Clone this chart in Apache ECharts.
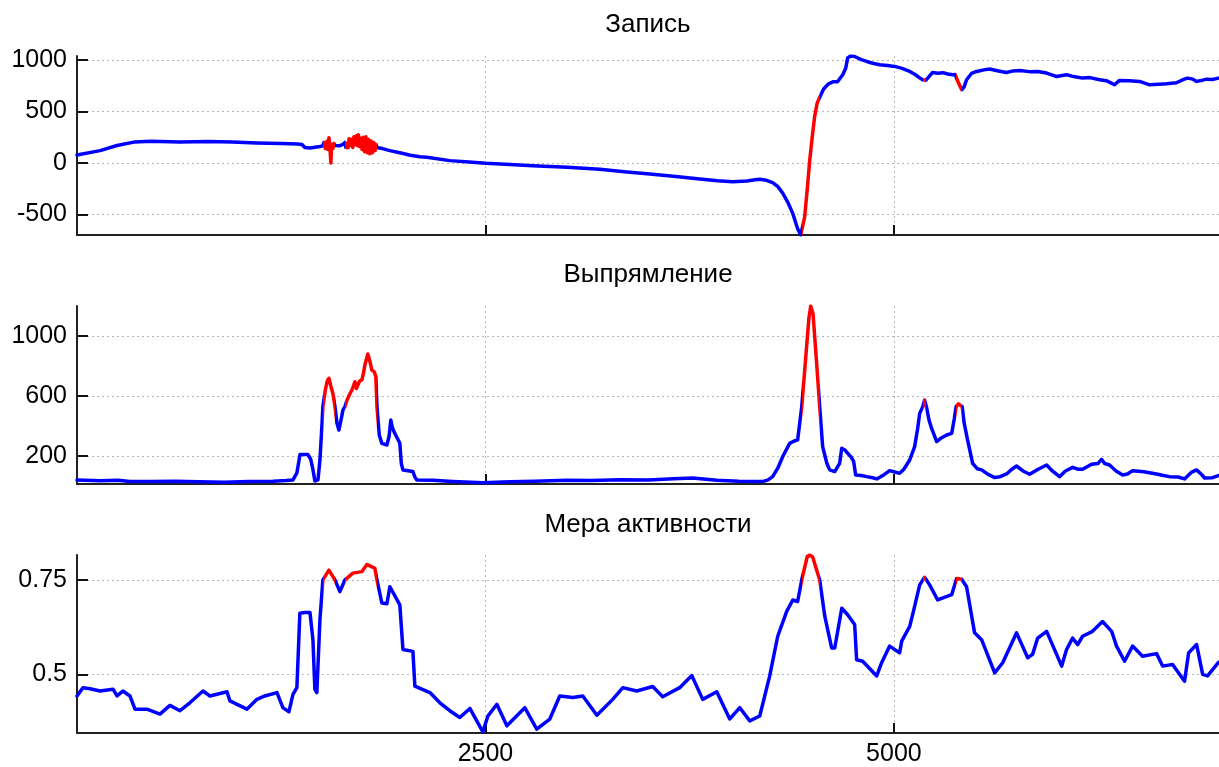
<!DOCTYPE html>
<html>
<head>
<meta charset="utf-8">
<script src="https://cdn.jsdelivr.net/npm/echarts@6/dist/echarts.min.js"></script>
<style>
html,body{margin:0;padding:0;background:#fff;}
#chart{width:1219px;height:767px;}
</style>
</head>
<body>
<div id="chart"></div>
<script>
// ---- data ----
const titles = ['Запись', 'Выпрямление', 'Мера активности'];
const xTicks = [2500, 5000];
const yTicks1 = [-500, 0, 500, 1000];
const yTicks2 = [200, 600, 1000];
const yTicks3 = [0.5, 0.75];
const threshold = 0.75;

const record = [
 [0,78],[141,120],[245,170],[355,205],[450,212],[630,205],[800,210],[950,205],[1100,195],[1250,190],[1350,185],[1377,180],[1395,150],[1426,146],[1487,160],[1505,166],
 [1512,200],[1520,140],[1530,210],[1536,130],[1542,245],[1548,150],[1554,0],[1558,180],[1566,140],[1572,190],[1579,170],
 [1591,175],[1609,168],[1628,180],
 [1640,200],[1646,150],[1652,190],[1660,150],[1665,235],[1672,170],[1680,230],[1688,150],[1695,255],[1702,180],[1710,265],[1716,170],[1722,275],[1730,160],[1738,240],[1745,130],[1752,250],[1760,110],[1768,255],[1776,100],[1784,230],[1792,90],[1800,215],[1808,100],[1816,200],[1824,120],[1830,180],[1836,150],
 [1850,146],[1870,140],[1915,120],[1976,100],[2040,75],[2099,61],[2141,55],[2282,23],[2400,10],[2502,-3],[2650,-15],[2790,-26],[3000,-42],[3200,-62],[3350,-85],[3506,-107],[3650,-130],[3812,-156],[3920,-172],[4014,-182],[4100,-176],[4150,-162],[4179,-158],[4220,-168],[4258,-190],[4290,-230],[4320,-294],[4350,-380],[4381,-490],[4411,-640],[4430,-700],
 [4454,-523],[4470,-250],[4485,29],[4500,250],[4515,451],[4530,580],[4546,640],[4570,720],[4600,770],[4630,790],[4655,790],[4687,858],[4705,920],[4717,1020],[4735,1040],[4760,1035],[4800,1005],[4834,987],[4870,970],[4913,955],[4960,948],[5005,939],[5050,920],[5097,890],[5130,860],[5160,825],[5176,809],[5195,805],[5210,830],[5237,880],[5270,872],[5300,878],[5330,865],[5360,858],[5375,860],[5395,780],[5415,712],[5430,740],[5445,809],[5475,870],[5507,890],[5550,905],[5586,913],[5640,895],[5690,880],[5730,895],[5770,900],[5830,888],[5880,890],[5935,874],[5970,855],[5996,841],[6030,850],[6057,858],[6100,840],[6155,825],[6200,830],[6259,809],[6300,800],[6351,760],[6381,803],[6440,800],[6504,793],[6565,760],[6620,765],[6669,770],[6730,780],[6770,810],[6797,825],[6830,815],[6853,793],[6890,805],[6914,815],[6950,812],[6987,825]
];

const rectified = [
 [0,40],[141,35],[250,38],[324,29],[450,30],[600,32],[750,28],[900,25],[1050,30],[1200,32],[1280,36],[1322,40],[1346,87],[1365,210],[1377,222],[1413,210],[1430,180],[1444,110],[1456,33],[1475,40],[1487,173],[1500,420],[1505,529],
 [1520,640],[1532,700],[1542,718],[1555,660],[1566,618],[1579,529],[1591,420],[1603,373],[1618,450],[1628,507],[1640,529],
 [1652,570],[1668,610],[1683,640],[1701,695],[1710,650],[1719,640],[1730,700],[1744,707],[1755,760],[1762,807],[1780,880],[1793,830],[1805,773],[1820,760],[1829,729],[1836,529],
 [1850,340],[1866,284],[1897,273],[1910,330],[1921,440],[1930,390],[1940,362],[1960,320],[1976,284],[1985,150],[1995,107],[2056,96],[2068,60],[2080,40],[2178,38],[2300,30],[2484,22],[2650,28],[2800,32],[2998,38],[3150,36],[3322,42],[3500,40],[3650,48],[3769,53],[3850,45],[3916,38],[4050,32],[4197,29],[4230,40],[4258,62],[4290,120],[4320,196],[4362,284],[4390,300],[4411,307],[4436,529],
 [4460,850],[4480,1120],[4491,1200],[4505,1150],[4525,850],[4546,529],
 [4564,262],[4590,150],[4607,107],[4638,96],[4668,151],[4681,251],[4700,240],[4717,218],[4740,190],[4754,162],[4766,73],[4800,70],[4834,62],[4870,55],[4895,47],[4940,75],[4974,102],[5000,95],[5035,84],[5060,110],[5097,173],[5127,262],[5145,380],[5158,484],[5177,529],
 [5188,573],[5199,529],
 [5215,440],[5231,384],[5262,296],[5290,320],[5323,340],[5354,351],[5370,450],[5381,529],
 [5395,547],[5405,550],[5418,529],
 [5430,420],[5451,307],[5482,151],[5510,115],[5537,107],[5580,75],[5617,56],[5650,62],[5690,80],[5720,110],[5751,133],[5790,100],[5831,78],[5880,110],[5935,140],[5970,100],[6014,62],[6050,100],[6094,124],[6125,112],[6155,111],[6210,145],[6250,150],[6271,178],[6290,150],[6320,140],[6360,100],[6400,73],[6430,80],[6461,102],[6530,95],[6608,80],[6650,70],[6687,62],[6740,60],[6779,47],[6820,90],[6853,107],[6880,80],[6902,53],[6950,55],[6987,69]
];

const activity = [
 [0,0.443],[37,0.465],[80,0.462],[141,0.456],[220,0.461],[245,0.443],[281,0.456],[324,0.443],[355,0.408],[428,0.408],[508,0.395],[569,0.418],[630,0.404],[691,0.425],[771,0.456],[814,0.443],[918,0.454],[936,0.430],[1040,0.408],[1101,0.434],[1150,0.443],[1224,0.452],[1260,0.412],[1297,0.401],[1322,0.447],[1346,0.465],[1364,0.662],[1395,0.664],[1426,0.664],[1444,0.592],[1456,0.461],[1468,0.452],[1487,0.645],[1505,0.75],[1542,0.776],[1579,0.75],[1609,0.719],[1640,0.75],[1689,0.768],[1744,0.772],[1774,0.791],[1823,0.781],[1836,0.75],[1866,0.689],[1897,0.687],[1915,0.732],[1976,0.684],[1995,0.566],[2056,0.561],[2068,0.469],[2160,0.452],[2221,0.425],[2282,0.404],[2343,0.386],[2405,0.410],[2484,0.348],[2515,0.390],[2570,0.421],[2631,0.364],[2741,0.412],[2814,0.355],[2894,0.382],[2955,0.443],[3035,0.439],[3096,0.443],[3182,0.392],[3279,0.434],[3341,0.465],[3426,0.456],[3524,0.468],[3585,0.441],[3689,0.465],[3763,0.497],[3830,0.434],[3916,0.454],[3995,0.382],[4057,0.412],[4118,0.377],[4179,0.390],[4240,0.496],[4289,0.601],[4344,0.667],[4381,0.697],[4411,0.693],[4436,0.75],[4470,0.812],[4485,0.816],[4503,0.811],[4546,0.75],[4577,0.654],[4619,0.570],[4638,0.570],[4681,0.675],[4717,0.658],[4760,0.632],[4772,0.539],[4809,0.535],[4895,0.496],[4925,0.531],[4974,0.575],[5035,0.557],[5048,0.588],[5097,0.627],[5127,0.680],[5158,0.737],[5188,0.757],[5219,0.737],[5268,0.697],[5354,0.711],[5384,0.754],[5415,0.752],[5445,0.732],[5494,0.610],[5537,0.592],[5617,0.504],[5666,0.531],[5751,0.610],[5819,0.544],[5849,0.553],[5880,0.596],[5935,0.614],[6027,0.522],[6057,0.566],[6094,0.596],[6125,0.579],[6155,0.601],[6216,0.614],[6277,0.640],[6333,0.614],[6363,0.575],[6412,0.535],[6461,0.575],[6522,0.548],[6608,0.555],[6645,0.522],[6706,0.526],[6779,0.482],[6804,0.557],[6853,0.579],[6890,0.5],[6920,0.496],[6987,0.532]
];

// ---- active intervals (activity >= threshold) ----
function activeRanges(arr, t) {
  const out = [];
  let start = arr[0][1] >= t ? arr[0][0] : null;
  for (let i = 1; i < arr.length; i++) {
    const [x0, y0] = arr[i - 1], [x1, y1] = arr[i];
    const a0 = y0 >= t, a1 = y1 >= t;
    if (a0 !== a1) {
      const xc = x0 + (t - y0) / (y1 - y0) * (x1 - x0);
      if (a1) start = xc; else { out.push([start, xc]); start = null; }
    }
  }
  if (start !== null) out.push([start, arr[arr.length - 1][0]]);
  return out;
}
const ranges = activeRanges(activity, threshold);

const BLUE = '#0000ff', RED = '#ff0000';
const FONT = "'Liberation Sans', Arial, sans-serif";
const grids = [
  {left: 77, width: 1142.5, top: 56, height: 179},
  {left: 77, width: 1142.5, top: 306, height: 178},
  {left: 77, width: 1142.5, top: 555, height: 179}
];
const yDefs = [
  {min: -700, max: 1040, ticks: yTicks1},
  {min: 13, max: 1200, ticks: yTicks2},
  {min: 0.345, max: 0.816, ticks: yTicks3}
];
const axisLineStyle = {color: '#222', width: 2};
const gridLine = {show: true, lineStyle: {color: '#b8b8b8', type: [2, 3], width: 1}};
const plain = v => String(v);

const chart = echarts.init(document.getElementById('chart'), null, {renderer: 'canvas'});
chart.setOption({
  animation: false,
  backgroundColor: '#fff',
  title: titles.map((t, i) => ({
    text: t, left: 648, top: [12, 262, 512][i], textAlign: 'center', padding: 0,
    textStyle: {fontFamily: FONT, fontSize: 26, fontWeight: 'normal', color: '#000'}
  })),
  grid: grids,
  xAxis: grids.map((g, i) => ({
    type: 'value', gridIndex: i, min: 0, max: 6990, interval: 2500,
    axisLine: {show: true, onZero: false, lineStyle: axisLineStyle},
    axisTick: {show: true, inside: true, length: 10, lineStyle: {color: '#111', width: 2}, customValues: xTicks},
    axisLabel: {show: i === 2, customValues: xTicks, formatter: plain, fontFamily: FONT, fontSize: 25, color: '#000', margin: 9},
    splitLine: gridLine
  })),
  yAxis: yDefs.map((d, i) => ({
    type: 'value', gridIndex: i, min: d.min, max: d.max,
    axisLine: {show: true, onZero: false, lineStyle: axisLineStyle},
    axisTick: {show: true, inside: true, length: 11, lineStyle: {color: '#111', width: 2}, customValues: d.ticks},
    axisLabel: {show: true, customValues: d.ticks, formatter: plain, fontFamily: FONT, fontSize: 25, color: '#000', margin: 10},
    splitLine: gridLine
  })),
  visualMap: [{
    type: 'piecewise', show: false, dimension: 0, seriesIndex: [0, 1, 2],
    pieces: ranges.map(r => ({gte: r[0], lte: r[1], color: RED})),
    outOfRange: {color: BLUE}
  }],
  series: [record, rectified, activity].map((d, i) => ({
    type: 'line', xAxisIndex: i, yAxisIndex: i, data: d,
    showSymbol: false, smooth: false, clip: true,
    lineStyle: {width: 3.5, join: 'round', cap: 'round'}
  }))
});
</script>
</body>
</html>
